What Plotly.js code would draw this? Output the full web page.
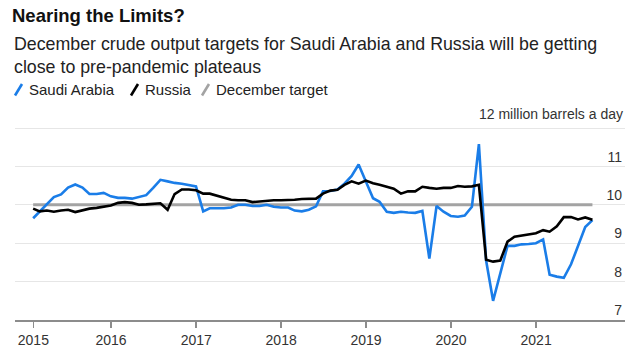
<!DOCTYPE html>
<html>
<head>
<meta charset="utf-8">
<script src="https://cdn.plot.ly/plotly-3.0.1.min.js"></script>
<style>
html,body{margin:0;padding:0;background:#fff;}
#chart{width:639px;height:354px;}
</style>
</head>
<body>
<div id="chart"></div>
<script>
// ---- Data (monthly, Jan 2015 - Aug 2021), million barrels a day ----
const startYear = 2015;
const monthCount = 80;

const saudiArabia = [
  9.65, 9.82, 10.03, 10.20, 10.27, 10.45, 10.53, 10.45, 10.28, 10.28, 10.31, 10.22,
  10.18, 10.18, 10.16, 10.20, 10.25, 10.44, 10.65, 10.61, 10.57, 10.55, 10.52, 10.48,
  9.83, 9.91, 9.91, 9.91, 9.93, 10.00, 10.00, 9.97, 9.97, 10.00, 9.95, 9.93,
  9.93, 9.85, 9.83, 9.87, 9.96, 10.35, 10.36, 10.40, 10.55, 10.75, 11.05, 10.60,
  10.17, 10.08, 9.82, 9.79, 9.82, 9.80, 9.79, 9.84, 8.60, 9.97, 9.82, 9.71,
  9.69, 9.72, 9.95, 11.58, 8.55, 7.50, 8.25, 8.93, 8.93, 8.97, 8.98, 9.00,
  9.10, 8.18, 8.13, 8.10, 8.45, 8.95, 9.42, 9.60
];

const russia = [
  9.90, 9.83, 9.85, 9.82, 9.85, 9.87, 9.81, 9.85, 9.90, 9.92, 9.95, 9.98,
  10.05, 10.07, 10.05, 10.00, 10.01, 10.02, 10.04, 9.87, 10.28, 10.40, 10.40, 10.38,
  10.29, 10.29, 10.23, 10.18, 10.13, 10.12, 10.12, 10.07, 10.09, 10.11, 10.12, 10.12,
  10.12, 10.13, 10.15, 10.16, 10.16, 10.29, 10.37, 10.39, 10.52, 10.61, 10.55, 10.63,
  10.56, 10.52, 10.47, 10.42, 10.29, 10.35, 10.35, 10.47, 10.44, 10.42, 10.44, 10.44,
  10.49, 10.47, 10.48, 10.52, 8.57, 8.52, 8.55, 9.04, 9.17, 9.20, 9.23, 9.26,
  9.34, 9.30, 9.44, 9.68, 9.68, 9.62, 9.67, 9.61
];

const targetDates = ['2015-01-31', '2021-08-31'];
const decemberTarget = [10, 10];

const yTickVals = [7, 8, 9, 10, 11, 12];
const yTickText = ['7', '8', '9', '10', '11', ''];
const yUnitLabel = '12 million barrels a day';
const xTickVals = ['2015-02-01', '2016-01-01', '2017-01-01', '2018-01-01', '2019-01-01', '2020-01-01', '2021-01-01'];
const xTickText = ['2015', '2016', '2017', '2018', '2019', '2020', '2021'];

// month-end dates
const dates = [];
for (let i = 0; i < monthCount; i++) {
  const d = new Date(Date.UTC(startYear, i + 1, 0));
  dates.push(d.toISOString().slice(0, 10));
}

const BLUE = '#1a7de8';
const FONT = '"Liberation Sans", Arial, Helvetica, sans-serif';

const traces = [
  {x: targetDates, y: decemberTarget, name: 'December target', mode: 'lines',
   line: {color: '#a3a3a3', width: 3}, hoverinfo: 'skip'},
  {x: dates, y: saudiArabia, name: 'Saudi Arabia', mode: 'lines',
   line: {color: BLUE, width: 2.6}},
  {x: dates, y: russia, name: 'Russia', mode: 'lines',
   line: {color: '#000000', width: 2.6}}
];

// plot area: x 15..625, y 101..320 (7 at 320, 38.4 px per unit)
const L = 15, R = 14, T = 101, B = 34;
const W = 639 - L - R, H = 354 - T - B;
const yTop = 7 + H / 38.4;
const px = v => (v - L) / W;
const py = v => (354 - B - v) / H;

const legendItems = [
  {label: 'Saudi Arabia', color: BLUE, x0: 15},
  {label: 'Russia', color: '#000000', x0: 131},
  {label: 'December target', color: '#a3a3a3', x0: 202}
];
const shapes = [];
const annotations = [];
legendItems.forEach(it => {
  shapes.push({type: 'line', xref: 'paper', yref: 'paper',
    x0: px(it.x0), x1: px(it.x0 + 7), y0: py(95.5), y1: py(84),
    line: {color: it.color, width: 2.6}});
  annotations.push({xref: 'paper', yref: 'paper', x: px(it.x0 + 12), y: py(89.5),
    xanchor: 'left', yanchor: 'middle', showarrow: false, text: it.label,
    font: {family: FONT, size: 15, color: '#222'}});
});
annotations.push({xref: 'paper', yref: 'paper', x: px(12), y: py(32),
  xanchor: 'left', yanchor: 'top', align: 'left', showarrow: false,
  text: 'December crude output targets for Saudi Arabia and Russia will be getting<br>close to pre-pandemic plateaus',
  font: {family: FONT, size: 17.8, color: '#222'}});
annotations.push({xref: 'paper', yref: 'y', x: px(624), y: 12,
  xanchor: 'right', yanchor: 'bottom', showarrow: false, text: yUnitLabel,
  yshift: 5, borderpad: 0,
  font: {family: FONT, size: 14, color: '#333'}});

const layout = {
  width: 639, height: 354,
  margin: {l: L, r: R, t: T, b: B, pad: 0},
  paper_bgcolor: '#fff', plot_bgcolor: '#fff',
  showlegend: false,
  font: {family: FONT, size: 14, color: '#333'},
  title: {text: '<b>Nearing the Limits?</b>', x: 12 / 639, xanchor: 'left',
          xref: 'container', yref: 'container', y: 1 - 16 / 354, yanchor: 'middle',
          font: {family: FONT, size: 18.5, color: '#111'}},
  xaxis: {
    type: 'date', range: ['2014-11-14', '2022-01-18'],
    tickvals: xTickVals, ticktext: xTickText,
    showgrid: false, zeroline: false,
    showline: true, linecolor: '#8c8c8c', linewidth: 2,
    ticks: 'outside', ticklen: 6, tickwidth: 1.5, tickcolor: '#8c8c8c',
    tickfont: {family: FONT, size: 14, color: '#333'}
  },
  yaxis: {
    range: [7, yTop], side: 'right',
    tickvals: yTickVals, ticktext: yTickText,
    ticklabelposition: 'inside top',
    showgrid: true, gridcolor: '#e6e6e6', gridwidth: 1,
    zeroline: false, showline: false, ticks: '',
    tickfont: {family: FONT, size: 14, color: '#333'}
  },
  shapes: shapes,
  annotations: annotations
};

Plotly.newPlot('chart', traces, layout, {displayModeBar: false, staticPlot: true});
</script>
</body>
</html>
